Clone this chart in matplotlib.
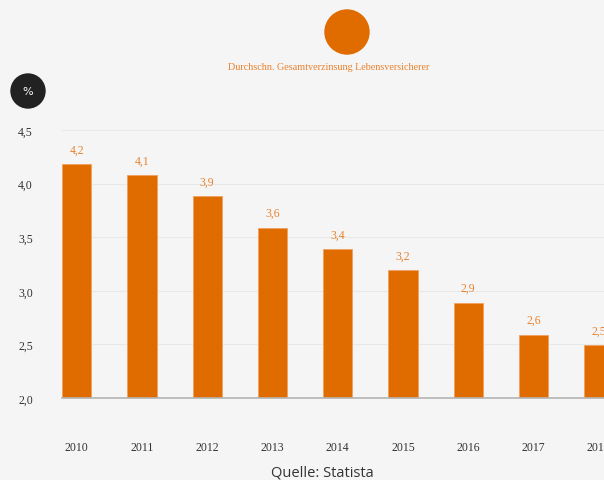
import matplotlib.pyplot as plt
from matplotlib.patches import Circle

years = ["2010", "2011", "2012", "2013", "2014", "2015", "2016", "2017", "2018"]
verzinsung = [4.18, 4.08, 3.88, 3.59, 3.39, 3.19, 2.89, 2.59, 2.49]
yticks = [2.0, 2.5, 3.0, 3.5, 4.0, 4.5]

orange = "#e06c00"
bg = "#f5f5f5"

fig = plt.figure(figsize=(6.04, 4.81), dpi=100, facecolor=bg)
ax = fig.add_axes([62 / 604, 82 / 481, 542 / 604, 268 / 481])
ax.set_facecolor(bg)

x = list(range(len(years)))
ax.bar(x, [v - 2.0 for v in verzinsung], bottom=2.0, width=0.45,
       color=orange, edgecolor="#f0a060", linewidth=0.6, zorder=3)

for xi, v in zip(x, verzinsung):
    ax.text(xi, v + 0.08, ("%.1f" % v).replace(".", ","), ha="center", va="bottom",
            color="#e8822e", fontsize=8.5, family="Liberation Serif")

ax.set_xlim(-0.225, 8.08)
ax.set_ylim(2.0, 4.5)
ax.set_yticks(yticks)
ax.set_yticklabels([("%.1f" % t).replace(".", ",") for t in yticks],
                   family="Liberation Serif", fontsize=8.5, color="#333333")
ax.set_xticks(x)
ax.set_xticklabels(years, family="Liberation Serif", fontsize=8.5, color="#333333")
ax.tick_params(axis="y", length=0, pad=21)
ax.tick_params(axis="x", length=0, pad=31)

for t in yticks[1:]:
    ax.axhline(t, color="#e8e8e8", linewidth=0.8, zorder=1)
for s in ["top", "right", "left"]:
    ax.spines[s].set_visible(False)
ax.spines["bottom"].set_color("#b5b5b5")
ax.spines["bottom"].set_linewidth(1.2)
ax.spines["bottom"].set_zorder(4)

# legend marker and title
fig.add_artist(Circle((3.47, 4.81 - 0.33), 0.22, color=orange,
                      transform=fig.dpi_scale_trans))
fig.text(329 / 604, 1 - 68 / 481, "Durchschn. Gesamtverzinsung Lebensversicherer",
         ha="center", va="center", color="#e8822e", fontsize=7.3,
         family="Liberation Serif")

# unit badge
fig.add_artist(Circle((0.28, 4.81 - 0.92), 0.17, color="#222222",
                      transform=fig.dpi_scale_trans))
fig.text(28 / 604, 1 - 92 / 481, "%", ha="center", va="center", color="white",
         fontsize=8, family="DejaVu Sans")

fig.text(322 / 604, 1 - 473 / 481, "Quelle: Statista", ha="center", va="center",
         color="#333333", fontsize=10.5, family="Open Sans")

fig.savefig("out.png", dpi=100, facecolor=bg)
